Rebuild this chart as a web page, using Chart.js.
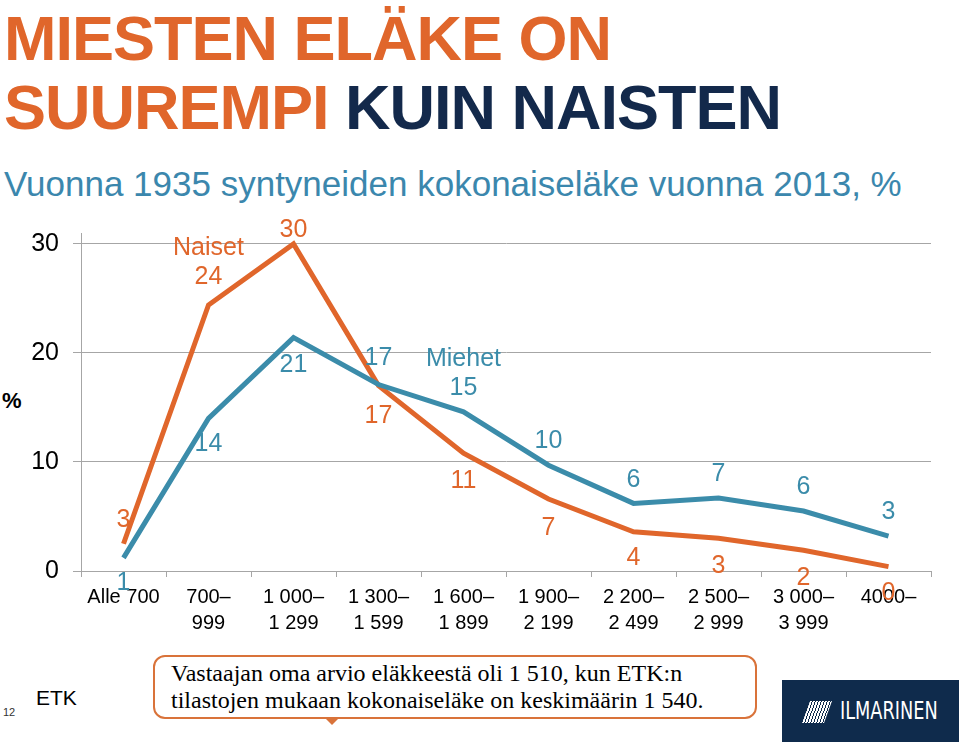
<!DOCTYPE html>
<html lang="fi">
<head>
<meta charset="UTF-8">
<title>Miesten eläke on suurempi kuin naisten</title>
<script src="https://cdn.jsdelivr.net/npm/chart.js"></script>
<style>
    body {
        margin: 0;
        width: 959px;
        height: 742px;
        position: relative;
        overflow: hidden;
        background: #fff;
        font-family: Arial, "Liberation Sans", sans-serif;
    }
    .title {
        position: absolute;
        left: 4px;
        top: 4px;
        font-size: 63px;
        font-weight: bold;
        letter-spacing: -1px;
        line-height: 69px;
        color: #e0662b;
        white-space: nowrap;
    }
    .title .navy { color: #13294b; }
    .subtitle {
        position: absolute;
        left: 4px;
        top: 164px;
        font-size: 35px;
        color: #3b87ad;
        white-space: nowrap;
    }
    .pct {
        position: absolute;
        left: 2px;
        top: 388px;
        font-size: 22px;
        font-weight: bold;
    }
    #wrap {
        position: absolute;
        left: 0;
        top: 204px;
        width: 959px;
        height: 436px;
    }
    .pageno { position: absolute; left: 3px; top: 706px; font-size: 11px; color: #333; }
    .etk { position: absolute; left: 36px; top: 686px; font-size: 21px; }
    .callout {
        position: absolute;
        left: 153px;
        top: 655px;
        width: 604px;
        height: 64px;
        border: 2.5px solid #d9733a;
        border-radius: 12px;
        box-sizing: border-box;
        font-family: "Liberation Serif", "DejaVu Serif", serif;
        font-size: 24px;
        line-height: 27px;
        padding: 3px 0 0 16px;
        white-space: nowrap;
    }
    .callout:after {
        content: "";
        position: absolute;
        left: 170px;
        bottom: -8px;
        border-left: 7px solid transparent;
        border-right: 7px solid transparent;
        border-top: 7px solid #d9733a;
    }
    .logo {
        position: absolute;
        left: 782px;
        top: 680px;
        width: 177px;
        height: 62px;
        background: #0f2b4c;
    }
    .logo .mark {
        position: absolute;
        left: 24px;
        top: 21px;
        width: 22px;
        height: 22px;
        transform: skewX(-20deg);
        background: repeating-linear-gradient(90deg, #fff 0 2px, #0f2b4c 2px 3px);
    }
    .logo .name {
        position: absolute;
        left: 58px;
        top: 17px;
        font-family: "DejaVu Sans Condensed", "DejaVu Sans", sans-serif;
        font-weight: 200;
        font-size: 24px;
        color: #fff;
        transform: scaleX(0.82);
        transform-origin: left;
    }
</style>
</head>
<body>
    <div class="title">MIESTEN ELÄKE ON<br>SUUREMPI <span class="navy">KUIN NAISTEN</span></div>
    <div class="subtitle">Vuonna 1935 syntyneiden kokonaiseläke vuonna 2013, %</div>
    <div class="pct">%</div>
    <div id="wrap"><canvas id="chart"></canvas></div>
    <div class="pageno">12</div>
    <div class="etk">ETK</div>
    <div class="callout">Vastaajan oma arvio eläkkeestä oli 1 510, kun ETK:n<br>tilastojen mukaan kokonaiseläke on keskimäärin 1 540.</div>
    <div class="logo"><div class="mark"></div><div class="name">ILMARINEN</div></div>

    <script>
        // tulohaarukat, euroa / kk
        const categories = [
            'Alle 700', ['700–', '999'], ['1 000–', '1 299'], ['1 300–', '1 599'], ['1 600–', '1 899'],
            ['1 900–', '2 199'], ['2 200–', '2 499'], ['2 500–', '2 999'], ['3 000–', '3 999'], '4000–'
        ];
        const miehet = [1.2, 14.0, 21.4, 17.1, 14.6, 9.7, 6.2, 6.7, 5.5, 3.2];
        const naiset = [2.5, 24.4, 30.0, 17.0, 10.8, 6.6, 3.6, 3.0, 1.9, 0.4];
        const yTicks = [0, 10, 20, 30];

        const blue = '#3b8caa';
        const orange = '#e0662b';

        // arvojen tekstit pisteiden ylä- tai alapuolelle
        const pointLabels = {
            id: 'pointLabels',
            afterDatasetsDraw(chart) {
                const ctx = chart.ctx;
                ctx.save();
                ctx.font = '25px Arial';
                ctx.textAlign = 'center';
                ctx.textBaseline = 'middle';
                chart.data.datasets.forEach((ds, i) => {
                    ctx.fillStyle = ds.borderColor;
                    chart.getDatasetMeta(i).data.forEach((pt, j) => {
                        const y = pt.y + ds.labelOffset[j];
                        ctx.fillText(Math.round(ds.data[j]), pt.x, y);
                        if (j === ds.nameAt) ctx.fillText(ds.label, pt.x, y - 29);
                    });
                });
                ctx.restore();
            }
        };

        new Chart(document.getElementById('chart').getContext('2d'), {
            type: 'line',
            data: {
                labels: categories,
                datasets: [
                    {
                        label: 'Miehet',
                        data: miehet,
                        borderColor: blue,
                        borderWidth: 5,
                        pointRadius: 0,
                        tension: 0,
                        labelOffset: [25, 26, 27, -26, -24, -24, -23, -24, -24, -24],
                        nameAt: 4
                    },
                    {
                        label: 'Naiset',
                        data: naiset,
                        borderColor: orange,
                        borderWidth: 5,
                        pointRadius: 0,
                        tension: 0,
                        labelOffset: [-24, -28, -14, 30, 28, 29, 26, 28, 28, 26],
                        nameAt: 1
                    }
                ]
            },
            options: {
                responsive: true,
                maintainAspectRatio: false,
                animation: false,
                layout: { padding: { top: 10, right: 28, left: 0, bottom: 0 } },
                plugins: {
                    legend: { display: false },
                    tooltip: { enabled: false }
                },
                scales: {
                    x: {
                        offset: true,
                        grid: {
                            offset: true,
                            drawOnChartArea: false,
                            drawTicks: true,
                            tickLength: 6,
                            color: '#a6a6a6'
                        },
                        border: { color: '#a6a6a6' },
                        ticks: {
                            color: '#000',
                            font: { family: 'Arial', size: 20, lineHeight: 1.3 },
                            padding: 7,
                            maxRotation: 0,
                            autoSkip: false
                        },
                        afterFit: s => { s.height = 69; }
                    },
                    y: {
                        min: 0,
                        max: 31,
                        afterBuildTicks: s => { s.ticks = yTicks.map(v => ({ value: v })); },
                        grid: { color: '#a6a6a6', tickLength: 8 },
                        border: { color: '#a6a6a6' },
                        ticks: {
                            color: '#000',
                            font: { family: 'Arial', size: 25 },
                            padding: 14
                        },
                        afterFit: s => { s.width = 81; }
                    }
                }
            },
            plugins: [pointLabels]
        });
    </script>
</body>
</html>
